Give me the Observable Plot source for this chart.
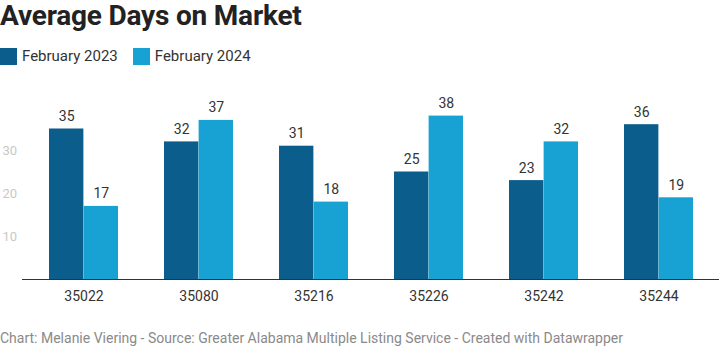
<!DOCTYPE html>
<html>
<head>
<meta charset="utf-8">
<script src="https://cdn.jsdelivr.net/npm/d3@7"></script>
<script src="https://cdn.jsdelivr.net/npm/@observablehq/plot@0.6"></script>
<style>
  html, body { margin: 0; padding: 0; background: #fff; width: 719px; height: 347px; overflow: hidden; font-family: Roboto, "Noto Sans", sans-serif; }
  #title { position: absolute; left: 0; top: -1px; font-size: 28px; font-weight: 700; color: #222; line-height: 34px; white-space: nowrap; letter-spacing: -0.2px; }
  #legend { position: absolute; left: 0; top: 47px; display: flex; gap: 15px; font-size: 15px; color: #333; line-height: 18px; }
  .item { display: flex; align-items: center; gap: 5px; }
  .sw { width: 17px; height: 17px; display: inline-block; }
  #chart { position: absolute; left: 0; top: 80px; }
  #footer { position: absolute; left: 0; top: 330px; font-size: 14px; color: #8a8a8a; white-space: nowrap; line-height: 16px; }
</style>
</head>
<body>
<div id="title">Average Days on Market</div>
<div id="legend"></div>
<div id="chart"></div>
<div id="footer">Chart: Melanie Viering - Source: Greater Alabama Multiple Listing Service - Created with Datawrapper</div>
<script>
const zips = ["35022", "35080", "35216", "35226", "35242", "35244"];
const series = ["February 2023", "February 2024"];
const values2023 = [35, 32, 31, 25, 23, 36];
const values2024 = [17, 37, 18, 38, 32, 19];
const yTicks = [10, 20, 30];
const colors = ["#0b5d8b", "#17a2d3"];

const legend = document.getElementById("legend");
series.forEach((s, i) => {
  const it = document.createElement("div");
  it.className = "item";
  it.innerHTML = `<span class="sw" style="background:${colors[i]}"></span><span>${s}</span>`;
  legend.appendChild(it);
});

const d23 = zips.map((z, i) => ({zip: z, value: values2023[i]}));
const d24 = zips.map((z, i) => ({zip: z, value: values2024[i]}));

const W = 719, H = 230;
const pIn = 0.4, pOut = 0.22, mL = 22, mR = 0;
const step = (W - mL - mR) / (zips.length - pIn + 2 * pOut);
const half = step * (1 - pIn) / 2;

const plot = Plot.plot({
  width: W,
  height: H,
  marginLeft: mL,
  marginRight: mR,
  marginTop: 27,
  marginBottom: 31,
  style: {fontFamily: "Roboto, sans-serif", background: "transparent"},
  x: {domain: zips, paddingInner: pIn, paddingOuter: pOut, label: null},
  y: {domain: [0, 40], label: null},
  marks: [
    Plot.barY(d23, {x: "zip", y: "value", fill: colors[0], insetRight: half}),
    Plot.barY(d24, {x: "zip", y: "value", fill: colors[1], insetLeft: half}),
    Plot.text(d23, {x: "zip", y: "value", text: d => String(d.value), dx: -half / 2, dy: -8, lineAnchor: "bottom", fontSize: 14, fill: "#333"}),
    Plot.text(d24, {x: "zip", y: "value", text: d => String(d.value), dx: half / 2, dy: -8, lineAnchor: "bottom", fontSize: 14, fill: "#333"}),
    Plot.axisY({ticks: yTicks, tickSize: 0, tickPadding: 0, textAnchor: "start", dx: -20, fill: "#c8c8c8", fontSize: 13, label: null}),
    Plot.axisX({tickSize: 0, tickPadding: 12, fontSize: 14, fill: "#333", label: null}),
    Plot.ruleY([0], {stroke: "#333", strokeWidth: 1})
  ]
});
document.getElementById("chart").appendChild(plot);
</script>
</body>
</html>
